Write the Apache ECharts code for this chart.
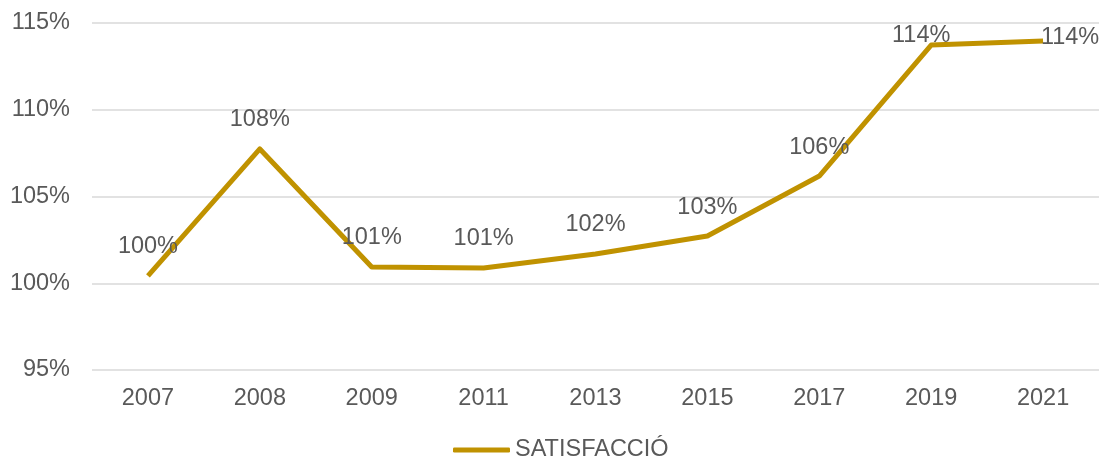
<!DOCTYPE html>
<html>
<head>
<meta charset="utf-8">
<script src="https://cdn.jsdelivr.net/npm/echarts@6/dist/echarts.min.js"></script>
<style>
    html, body { margin: 0; padding: 0; background: #fff; }
    #chart { width: 1105px; height: 462px; }
</style>
</head>
<body>
<div id="chart"></div>
<script>
// dades
var years = ['2007', '2008', '2009', '2011', '2013', '2015', '2017', '2019', '2021'];
var satisfaccio = [100.42, 107.74, 100.94, 100.88, 101.69, 102.72, 106.18, 113.73, 113.96];
var yTicks = [95, 100, 105, 110, 115];

var gold = '#C09200';
var grey = '#595959';
var fs = 23.5;

// the last two labels sit off their default spot in the original
var labelShift = { 7: [-10, 19], 8: [27, 25] };

var seriesData = satisfaccio.map(function (v, i) {
    var item = { value: v };
    if (labelShift[i]) {
        item.label = { offset: labelShift[i] };
    }
    return item;
});

var chart = echarts.init(document.getElementById('chart'));
chart.setOption({
    animation: false,
    textStyle: { fontFamily: 'Liberation Sans, Arial, sans-serif' },
    grid: { left: 92, right: 6, top: 23, bottom: 92, containLabel: false },
    legend: {
        top: 438,
        left: 453,
        padding: 0,
        icon: 'roundRect',
        itemWidth: 57,
        itemHeight: 5,
        textStyle: { color: grey, fontSize: fs },
        data: ['SATISFACCIÓ']
    },
    xAxis: {
        type: 'category',
        data: years,
        boundaryGap: true,
        axisLine: { show: false },
        axisTick: { show: false },
        axisLabel: { color: grey, fontSize: fs, margin: 17 }
    },
    yAxis: {
        type: 'value',
        min: yTicks[0],
        max: yTicks[yTicks.length - 1],
        interval: 5,
        axisLine: { show: false },
        axisTick: { show: false },
        axisLabel: { color: grey, fontSize: fs, margin: 22, formatter: '{value}%' },
        splitLine: { lineStyle: { color: '#d9d9d9', width: 1.5 } }
    },
    series: [{
        name: 'SATISFACCIÓ',
        type: 'line',
        data: seriesData,
        showSymbol: true,
        symbol: 'circle',
        symbolSize: 0,
        itemStyle: { color: gold },
        lineStyle: { color: gold, width: 5, join: 'round' },
        label: {
            show: true,
            position: 'top',
            distance: 17,
            color: grey,
            fontSize: fs,
            formatter: function (p) { return Math.round(p.value) + '%'; }
        }
    }]
});
</script>
</body>
</html>
